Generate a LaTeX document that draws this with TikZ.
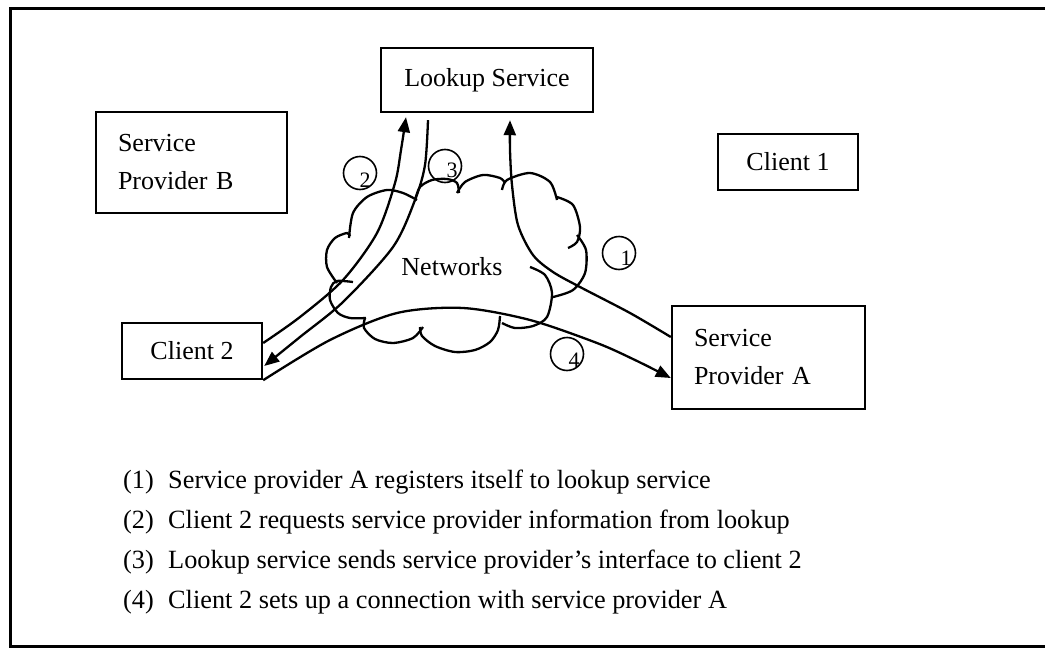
\documentclass[tikz,border=0pt]{standalone}
\usepackage{fontspec}
\setmainfont{Liberation Serif}
\usetikzlibrary{arrows.meta}
\begin{document}
\begin{tikzpicture}[x=1pt,y=-1pt,
  box/.style={draw, line width=2.4pt, inner sep=0pt, font=\fontsize{26}{38}\selectfont},
  twoline/.style={box, align=left, inner xsep=22pt, inner ysep=0pt},
  flow/.style={line width=2.3pt, -{Triangle[length=15pt,width=12pt]}},
  cloudline/.style={line width=2.3pt},
  numcirc/.style={circle, draw, line width=1.6pt, minimum size=33pt, inner sep=0pt},
  numdigit/.style={font=\fontsize{22}{22}\selectfont, inner sep=0pt},
  legend/.style={anchor=base west, inner sep=0pt, font=\fontsize{26.3}{30}\selectfont}]
\useasboundingbox (0,0) rectangle (1045,648);
% frame
\draw[line width=3pt] (1050,8) -- (10,8) -- (10,646) -- (1050,646);

% boxes
\node[box, minimum width=212pt, minimum height=64pt] (lookup) at (487,80) {Lookup Service};
\node[twoline, text width=147pt, minimum height=101pt] (spb) at (191.5,162.5) {Service\\Provider B};
\node[box, minimum width=140pt, minimum height=56pt] (c1) at (788,162) {Client 1};
\node[box, minimum width=140pt, minimum height=56pt] (c2) at (192,351) {Client 2};
\node[twoline, text width=149pt, minimum height=103pt] (spa) at (768.5,357.5) {Service\\Provider A};

% network cloud, one arc per puff
\draw[cloudline] plot[smooth] coordinates {(349,238) (353,213) (367,197) (387,190) (403,193) (417,200)};
\draw[cloudline] plot[smooth] coordinates {(415,200) (420,187) (432,180) (447,179) (457,183) (459,193)};
\draw[cloudline] plot[smooth] coordinates {(457,193) (465,182) (483,175) (500,178) (505,183)};
\draw[cloudline] plot[smooth] coordinates {(502,190) (507,180) (530,173) (550,182) (557,200)};
\draw[cloudline] plot[smooth] coordinates {(557,197) (573,205) (580,227) (577,242) (568,248)};
\draw[cloudline] plot[smooth] coordinates {(577,235) (586,250) (585,273) (573,290) (553,297)};
\draw[cloudline] plot[smooth] coordinates {(530,267) (545,275) (552,293) (547,317) (533,326) (515,328) (502,323)};
\draw[cloudline] plot[smooth] coordinates {(500,316) (498,330) (490,342) (475,350) (455,352) (435,346) (422,336) (420,327)};
\draw[cloudline] plot[smooth] coordinates {(423,327) (413,338) (393,343) (375,339) (364,328) (365,318)};
\draw[cloudline] plot[smooth] coordinates {(366,318) (350,318) (338,313) (330,300) (331,287) (337,281) (353,282)};
\draw[cloudline] plot[smooth] coordinates {(337,283) (327,267) (327,250) (335,238) (347,233) (350,236)};
\node[font=\fontsize{26}{30}\selectfont, inner sep=0pt] (net) at (452,267) {Networks};

% message flows
\draw[flow] plot[smooth] coordinates {([shift={(0,-20.5)}]spa.west) (630,313) (580,287) (553,272) (533,255) (518,225) (512,185) (510,150) ([shift={(23,7)}]lookup.south)};
\draw[flow] plot[smooth] coordinates {([shift={(0,-8)}]c2.east) (300,317) (343,280) (377,233) (395,183) (401,150) ([shift={(-81,4)}]lookup.south)};
\draw[flow] plot[smooth] coordinates {([shift={(-59,7)}]lookup.south) (425,165) (415,200) (393,247) (343,302) (300,337) ([shift={(1,15)}]c2.east)};
\draw[flow] plot[smooth] coordinates {(c2.south east) (330,340) (397,313) (463,308) (530,320) (597,343) (635,360) ([shift={(0,20.5)}]spa.west)};

% step markers
\node[numcirc] (k1) at (619,253) {};
\node[numdigit] at ([shift={(7,5)}]k1.center) {1};
\node[numcirc] (k2) at (360,173) {};
\node[numdigit] at ([shift={(5,7)}]k2.center) {2};
\node[numcirc] (k3) at (445,166) {};
\node[numdigit] at ([shift={(7,4)}]k3.center) {3};
\node[numcirc] (k4) at (567,354) {};
\node[numdigit] at ([shift={(7,6)}]k4.center) {4};

% legend
\node[legend] (l1n) at (123,488) {(1)};
\node[legend] (l1t) at (168,488) {Service provider A registers itself to lookup service};
\node[legend] (l2n) at (123,528) {(2)};
\node[legend] (l2t) at (168,528) {Client 2 requests service provider information from lookup};
\node[legend] (l3n) at (123,568) {(3)};
\node[legend] (l3t) at (168,568) {Lookup service sends service provider’s interface to client 2};
\node[legend] (l4n) at (123,608) {(4)};
\node[legend] (l4t) at (168,608) {Client 2 sets up a connection with service provider A};
\end{tikzpicture}
\end{document}
